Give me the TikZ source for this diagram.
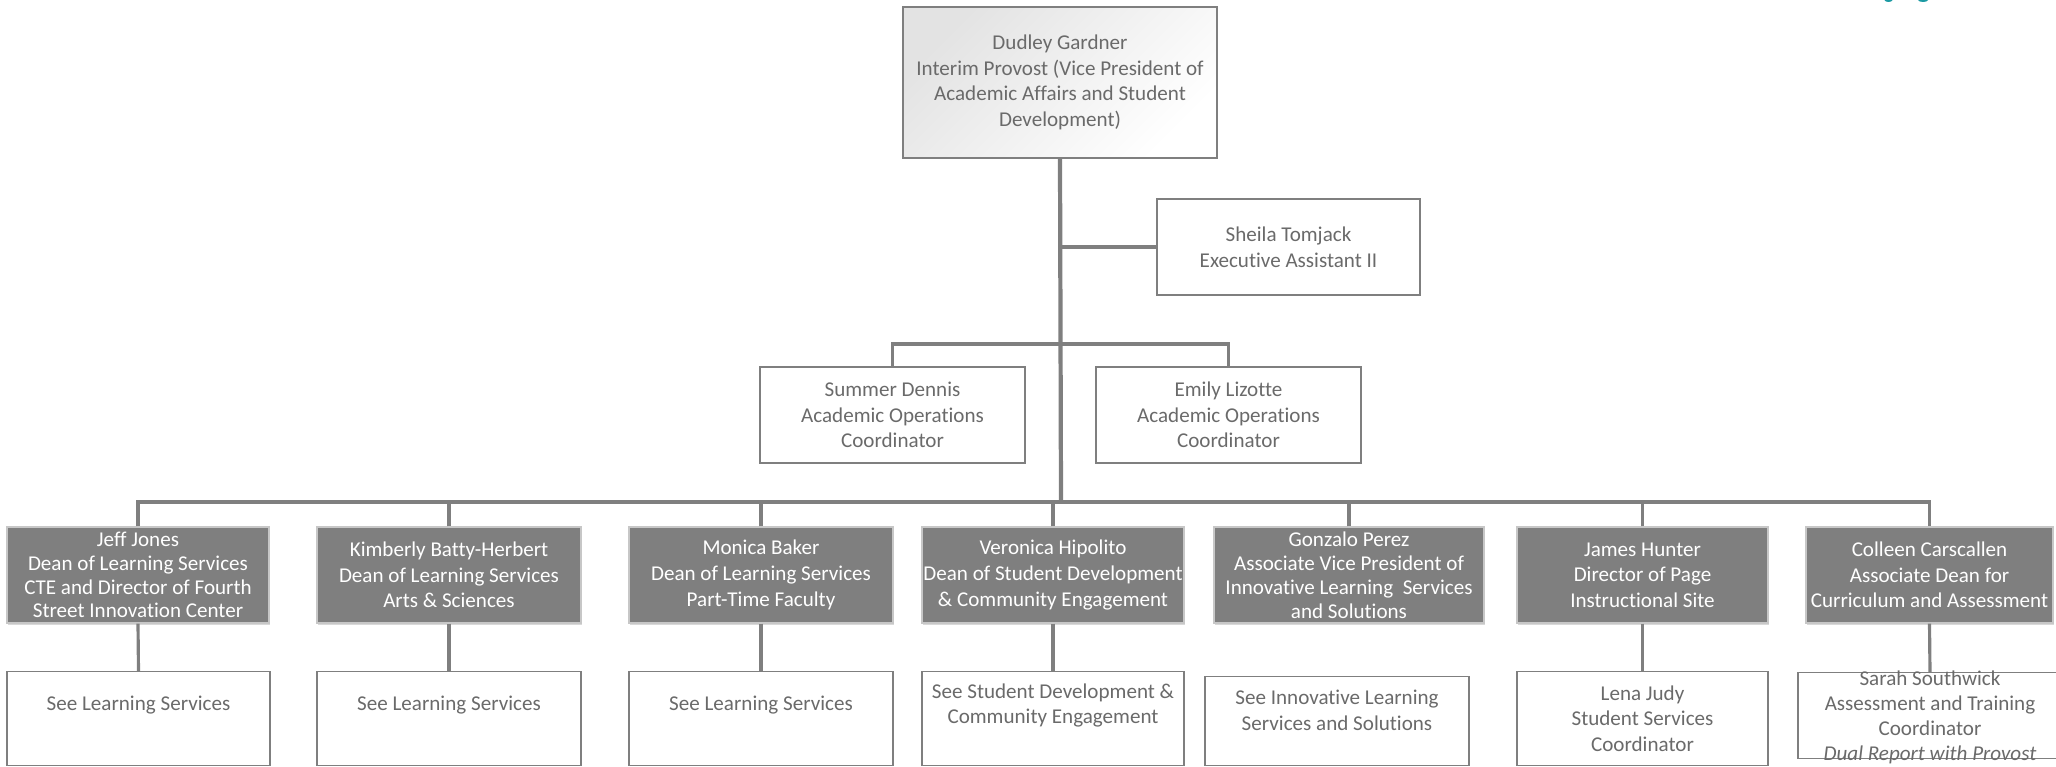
\documentclass[tikz,border=0pt]{standalone}
\usepackage{fontspec}
\setmainfont{Carlito}[Ligatures=NoCommon]
\usetikzlibrary{calc}
\usetikzlibrary{shadows}

\definecolor{linegray}{HTML}{7F7F7F}
\definecolor{textgray}{HTML}{6A6A6A}
\definecolor{logoteal}{HTML}{1C9AA3}

\tikzset{
	orgbox/.style 2 args={rectangle, draw=linegray, line width=0.8pt,
		minimum width=#1*0.02cm, minimum height=#2*0.02cm, inner sep=0pt,
		align=center, text=textgray, font=\fontsize{12}{14.6}\selectfont},
	provostbox/.style={orgbox={314}{151}, top color=black!11, bottom color=white,
		shading angle=45},
	deanbox/.style={orgbox={#1}{96}, fill=linegray, draw=black!22, text=white,
		drop shadow={shadow xshift=0.8pt, shadow yshift=-1pt, opacity=0.3}},
	subbox/.style 2 args={orgbox={#1}{#2}, anchor=north, fill=white},
	subtext/.style={align=center, inner sep=0pt, text=textgray,
		font=\fontsize{12}{14.6}\selectfont},
	tight/.style={font=\fontsize{12}{13.6}\selectfont},
	trunk/.style={draw=linegray, line width=2.4pt},
	branch/.style={draw=linegray, line width=1.8pt}
}

\begin{document}
\begin{tikzpicture}[x=0.02cm, y=-0.02cm]
	
	% page frame
	\useasboundingbox (0,0) rectangle (2056,767);
	
	% the cut logo at the top
	\fill [logoteal] (1888.5,0) ellipse (4 and 2);
	\fill [logoteal] (1923,0) ellipse (5 and 2);
	
	% main junction points
	\coordinate (hub) at (1061,502);
	\coordinate (opsbar) at (1061,344);
	
	% Provost
	\node [provostbox] (provost) at (1060,82.5) {Dudley Gardner\\Interim Provost (Vice President of\\Academic Affairs and Student\\Development)};
	
	% staff of the Provost
	\node [orgbox={263}{96}] (tomjack) at (1288.5,247) {Sheila Tomjack\\Executive Assistant II};
	\node [orgbox={265}{96}] (dennis) at (892.5,415) {Summer Dennis\\Academic Operations\\Coordinator};
	\node [orgbox={265}{96}] (lizotte) at (1228.5,415) {Emily Lizotte\\Academic Operations\\Coordinator};
	
	% deans and directors
	\node [deanbox=262, tight] (jones) at (138,575) {Jeff Jones\\Dean of Learning Services\\CTE and Director of Fourth\\Street Innovation Center};
	\node [deanbox=264] (batty) at (449,575) {Kimberly Batty-Herbert\\Dean of Learning Services\\Arts \& Sciences};
	\node [deanbox=264] (baker) at (761,575) {Monica Baker\\Dean of Learning Services\\Part-Time Faculty};
	\node [deanbox=262] (hipolito) at (1053,575) {Veronica Hipolito\\Dean of Student Development\\\& Community Engagement};
	\node [deanbox=270, tight] (perez) at (1349,575) {Gonzalo Perez\\Associate Vice President of\\Innovative Learning~ Services\\and Solutions};
	\node [deanbox=251] (hunter) at (1642.5,575) {James Hunter\\Director of Page\\Instructional Site};
	\node [deanbox=247] (carscallen) at (1929.5,575) {Colleen Carscallen\\Associate Dean for\\Curriculum and Assessment};
	
	% bottom row boxes
	\node [subbox={263}{94}] (jonessub) at (138.5,671) {};
	\node [subbox={264}{94}] (battysub) at (449,671) {};
	\node [subbox={264}{94}] (bakersub) at (761,671) {};
	\node [subbox={262}{94}] (hipolitosub) at (1053,671) {};
	\node [subbox={264}{89}] (perezsub) at (1337,676) {};
	\node [subbox={251}{94}] (huntersub) at (1642.5,671) {};
	\node [subbox={264}{86}] (carscallensub) at (1930,672) {};
	
	% bottom row texts
	\node [subtext] (jonestext) at (138.5,705.5) {See Learning Services};
	\node [subtext] (battytext) at (449,705.5) {See Learning Services};
	\node [subtext] (bakertext) at (761,705.5) {See Learning Services};
	\node [subtext] (hipolitotext) at (1053,705.5) {See Student Development \&\\Community Engagement};
	\node [subtext] (pereztext) at (1337,710.5) {See Innovative Learning\\Services and Solutions};
	\node [subtext] (huntertext) at (1642.5,718.5) {Lena Judy\\Student Services\\Coordinator};
	\node [subtext, font=\fontsize{12}{14.3}\selectfont] (carscallentext) at (1930,717.5) {Sarah Southwick\\Assessment and Training\\Coordinator\\\textit{Dual Report with Provost}};
	
	% trunk and side branches
	\draw [trunk] (provost.south) -- (hub);
	\draw [branch] (tomjack.west) -- (tomjack.west -| hub);
	\draw [branch] (dennis.north) |- (opsbar) -| (lizotte.north);
	
	% main bar to the deans
	\draw [branch] (jones.north) |- (hub) -| (carscallen.north);
	\foreach \n in {batty,baker,hipolito,perez,hunter}
		\draw [branch] (\n.north) -- (\n.north |- hub);
	
	% deans to their units
	\foreach \n in {jones,batty,baker,hipolito,hunter,carscallen}
		\draw [branch] (\n.south) -- (\n sub.north);
	
\end{tikzpicture}
\end{document}
